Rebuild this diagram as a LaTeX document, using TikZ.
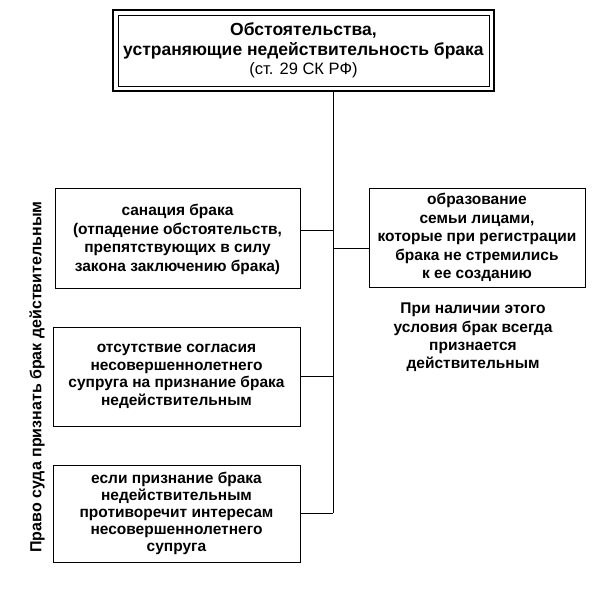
\documentclass[tikz,border=0pt]{standalone}
\usepackage{fontspec}
\setmainfont{Liberation Sans}
\begin{document}
\begin{tikzpicture}[x=1pt,y=-1pt,
  box/.style={draw, line width=0.9pt, align=center, inner sep=0pt,
    font=\bfseries\fontsize{15.5}{18.5}\selectfont},
  conn/.style={line width=0.9pt}]
\useasboundingbox[fill=white] (0,0) rectangle (600,594);
% top box
\node[draw, line width=0.8pt, minimum width=371pt, minimum height=71pt, align=center, inner sep=0pt,
  font=\fontsize{17.5}{19.5}\selectfont] (top) at (303.5,50.5)
  {\textbf{Обстоятельства,}\\ \textbf{устраняющие недействительность брака}\\ {\fontsize{16.5}{19.5}\selectfont (ст. 29 СК РФ)}};
\draw[line width=2.6pt] ([shift={(-4.5,-4.5)}]top.north west) rectangle ([shift={(4.5,4.5)}]top.south east);
% left boxes
\node[box, minimum width=245pt, minimum height=100pt, text depth=-3pt] (b1) at (177.5,238)
  {санация брака\\ (отпадение обстоятельств,\\ препятствующих в силу\\ закона заключению брака)};
\node[box, minimum width=247pt, minimum height=99pt, font=\bfseries\fontsize{15.5}{17.5}\selectfont] (b2) at (176.5,376.5)
  {отсутствие согласия\\ несовершеннолетнего\\ супруга на признание брака\\ недействительным};
\node[box, minimum width=247pt, minimum height=97pt, font=\bfseries\fontsize{15.5}{16.8}\selectfont] (b3) at (176.5,513.5)
  {если признание брака\\ недействительным\\ противоречит интересам\\ несовершеннолетнего\\ супруга};
% right box
\node[box, minimum width=216pt, minimum height=99pt] (rb) at (477,237.5)
  {образование\\ семьи лицами,\\ которые при регистрации\\ брака не стремились\\ к ее созданию};
\node[align=center, inner sep=0pt, font=\bfseries\fontsize{15.5}{18.3}\selectfont, anchor=north] (note) at (473,303)
  {При наличии этого\\ условия брак всегда\\ признается\\ действительным};
% side label
\node[rotate=90, inner sep=0pt, font=\bfseries\fontsize{16}{19}\selectfont] (side) at (37,377)
  {Право суда признать брак действительным};
% connectors
\coordinate (tb) at (333,513);
\draw[conn] (top.south -| tb) ++(0,4.5) -- (tb);
\draw[conn] ([yshift=8pt]b1.east) -- ([yshift=8pt]b1.east -| tb);
\draw[conn] (b2.east) -- (b2.east -| tb);
\draw[conn] (b3.east -| b2.east) ++(0,-0.5) -- (tb);
\draw[conn] ([yshift=-10.5pt]rb.west) -- ([yshift=-10.5pt]rb.west -| tb);
\end{tikzpicture}
\end{document}
